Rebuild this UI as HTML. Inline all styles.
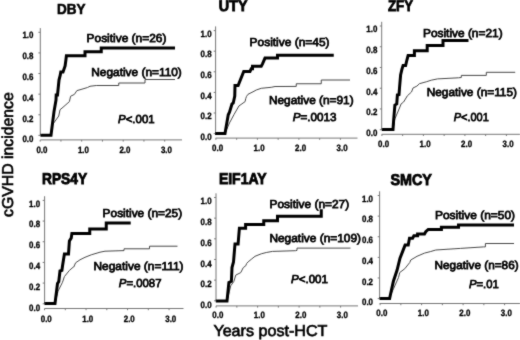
<!DOCTYPE html>
<html><head><meta charset="utf-8"><title>cGVHD incidence</title>
<style>
html,body{margin:0;padding:0;background:#fff;}
body{width:520px;height:340px;overflow:hidden;font-family:"Liberation Sans",sans-serif;}
svg{display:block;font-family:"Liberation Sans",sans-serif;text-rendering:geometricPrecision;}
.t{font-weight:bold;font-size:14.6px;fill:#000;stroke:#000;stroke-width:0.6px;}
.l{font-size:11.5px;fill:#000;stroke:#000;stroke-width:0.75px;}
.k{font-weight:bold;font-size:9.2px;fill:#000;stroke:#000;stroke-width:0.35px;}
.ax{stroke:#777;stroke-width:1.0;fill:none;}
.thick{stroke:#000;stroke-width:3.0;fill:none;stroke-linejoin:miter;}
.thin{stroke:#484848;stroke-width:1.0;fill:none;stroke-linejoin:round;}
.yl{font-size:15.7px;fill:#000;stroke:#000;stroke-width:0.65px;}
.xl{font-size:15.8px;fill:#000;stroke:#000;stroke-width:0.65px;}
</style></head><body>
<svg width="520" height="340" viewBox="0 0 520 340">
<defs><filter id="bl" x="-5%" y="-5%" width="110%" height="110%"><feConvolveMatrix order="3" kernelMatrix="1 4 1 4 28 4 1 4 1" divisor="48" edgeMode="duplicate" preserveAlpha="false"/></filter></defs>
<rect width="520" height="340" fill="#fff"/>
<g filter="url(#bl)">

<g id="p1">
<path class="ax" d="M40.30,28.10 V135.40 M38.40,135.40 H40.30 M38.40,114.78 H40.30 M38.40,94.16 H40.30 M38.40,73.54 H40.30 M38.40,52.92 H40.30 M38.40,32.30 H40.30 M40.30,139.90 H182.00 M40.20,139.90 v1.7 M60.95,139.90 v1.7 M81.70,139.90 v1.7 M102.45,139.90 v1.7 M123.20,139.90 v1.7 M143.95,139.90 v1.7 M164.70,139.90 v1.7"/>
<text class="k" x="33.40" y="142.40" text-anchor="end" textLength="11.0" lengthAdjust="spacingAndGlyphs">0.0</text>
<text class="k" x="33.40" y="121.60" text-anchor="end" textLength="11.0" lengthAdjust="spacingAndGlyphs">0.2</text>
<text class="k" x="33.40" y="100.80" text-anchor="end" textLength="11.0" lengthAdjust="spacingAndGlyphs">0.4</text>
<text class="k" x="33.40" y="80.00" text-anchor="end" textLength="11.0" lengthAdjust="spacingAndGlyphs">0.6</text>
<text class="k" x="33.40" y="59.20" text-anchor="end" textLength="11.0" lengthAdjust="spacingAndGlyphs">0.8</text>
<text class="k" x="33.40" y="38.40" text-anchor="end" textLength="11.0" lengthAdjust="spacingAndGlyphs">1.0</text>
<text class="k" x="41.90" y="152.60" text-anchor="middle" textLength="11.0" lengthAdjust="spacingAndGlyphs">0.0</text>
<text class="k" x="83.40" y="152.60" text-anchor="middle" textLength="11.0" lengthAdjust="spacingAndGlyphs">1.0</text>
<text class="k" x="124.90" y="152.60" text-anchor="middle" textLength="11.0" lengthAdjust="spacingAndGlyphs">2.0</text>
<text class="k" x="166.40" y="152.60" text-anchor="middle" textLength="11.0" lengthAdjust="spacingAndGlyphs">3.0</text>
<path class="thin" d="M51.00,135.20 L52.50,124.75 L58.75,116.00 L60.00,109.75 L63.00,107.25 L69.40,101.60 L70.60,96.25 L74.40,94.40 L76.90,90.60 L80.00,89.75 L87.50,87.50 L90.00,86.25 L96.25,85.50 L118.75,85.50 L118.75,83.00 L145.00,83.00 L145.00,79.50 L175.00,79.50"/>
<path class="thick" d="M40.40,135.20 L51.00,135.20 L54.00,111.60 L56.00,100.00 L56.20,95.00 L57.50,95.00 L59.00,80.00 L60.30,75.00 L60.80,72.00 L63.00,72.00 L65.10,66.00 L65.90,60.00 L66.40,55.70 L85.00,55.70 L85.00,51.75 L101.25,51.75 L101.25,48.00 L175.00,48.00"/>
<text class="t" x="57" y="13.75" textLength="28.5" lengthAdjust="spacingAndGlyphs">DBY</text>
<text class="l" x="86.6" y="41.6" textLength="79.8" lengthAdjust="spacingAndGlyphs">Positive (n=26)</text>
<text class="l" x="91.3" y="75.9" textLength="90.5" lengthAdjust="spacingAndGlyphs">Negative (n=110)</text>
<text class="l" x="118.1" y="122.6" textLength="36.5" lengthAdjust="spacingAndGlyphs"><tspan font-style="italic">P</tspan>&lt;.001</text>
</g>
<g id="p2">
<path class="ax" d="M215.60,26.40 V133.60 M213.70,133.60 H215.60 M213.70,113.00 H215.60 M213.70,92.40 H215.60 M213.70,71.80 H215.60 M213.70,51.20 H215.60 M213.70,30.60 H215.60 M215.60,138.10 H357.50 M215.90,138.10 v1.7 M236.65,138.10 v1.7 M257.40,138.10 v1.7 M278.15,138.10 v1.7 M298.90,138.10 v1.7 M319.65,138.10 v1.7 M340.40,138.10 v1.7"/>
<text class="k" x="211.60" y="139.90" text-anchor="end" textLength="11.0" lengthAdjust="spacingAndGlyphs">0.0</text>
<text class="k" x="211.60" y="119.24" text-anchor="end" textLength="11.0" lengthAdjust="spacingAndGlyphs">0.2</text>
<text class="k" x="211.60" y="98.58" text-anchor="end" textLength="11.0" lengthAdjust="spacingAndGlyphs">0.4</text>
<text class="k" x="211.60" y="77.92" text-anchor="end" textLength="11.0" lengthAdjust="spacingAndGlyphs">0.6</text>
<text class="k" x="211.60" y="57.26" text-anchor="end" textLength="11.0" lengthAdjust="spacingAndGlyphs">0.8</text>
<text class="k" x="211.60" y="36.60" text-anchor="end" textLength="11.0" lengthAdjust="spacingAndGlyphs">1.0</text>
<text class="k" x="217.60" y="150.90" text-anchor="middle" textLength="11.0" lengthAdjust="spacingAndGlyphs">0.0</text>
<text class="k" x="259.10" y="150.90" text-anchor="middle" textLength="11.0" lengthAdjust="spacingAndGlyphs">1.0</text>
<text class="k" x="300.60" y="150.90" text-anchor="middle" textLength="11.0" lengthAdjust="spacingAndGlyphs">2.0</text>
<text class="k" x="342.10" y="150.90" text-anchor="middle" textLength="11.0" lengthAdjust="spacingAndGlyphs">3.0</text>
<path class="thin" d="M225.00,133.40 L229.50,122.90 L233.90,114.75 L238.90,106.00 L245.10,101.60 L245.75,98.50 L246.50,96.40 L248.00,94.30 L253.00,91.80 L256.25,90.00 L261.25,88.30 L271.25,87.30 L275.00,86.50 L296.25,86.40 L296.25,83.75 L321.25,83.75 L321.25,80.00 L350.00,80.00"/>
<path class="thick" d="M215.00,133.40 L225.00,133.40 L228.25,114.75 L229.50,112.25 L232.00,104.00 L233.25,103.00 L234.75,96.00 L235.00,85.60 L238.10,85.60 L243.75,71.40 L250.00,71.40 L251.25,68.70 L252.50,68.70 L252.50,66.20 L261.25,66.20 L262.50,63.90 L265.00,58.10 L277.50,58.10 L277.50,55.30 L333.75,55.30"/>
<text class="t" style="font-size:15.6px;stroke-width:0.85px" x="218.75" y="11" textLength="28.75" lengthAdjust="spacingAndGlyphs">UTY</text>
<text class="l" x="249.6" y="45.6" textLength="79.9" lengthAdjust="spacingAndGlyphs">Positive (n=45)</text>
<text class="l" x="268.9" y="104.2" textLength="84.8" lengthAdjust="spacingAndGlyphs">Negative (n=91)</text>
<text class="l" x="292.8" y="121.3" textLength="43.75" lengthAdjust="spacingAndGlyphs"><tspan font-style="italic">P</tspan>=.0013</text>
</g>
<g id="p3">
<path class="ax" d="M381.70,21.80 V129.70 M379.80,129.70 H381.70 M379.80,108.96 H381.70 M379.80,88.22 H381.70 M379.80,67.48 H381.70 M379.80,46.74 H381.70 M379.80,26.00 H381.70 M381.70,134.30 H520.00 M381.90,134.30 v1.7 M402.65,134.30 v1.7 M423.40,134.30 v1.7 M444.15,134.30 v1.7 M464.90,134.30 v1.7 M485.65,134.30 v1.7 M506.40,134.30 v1.7"/>
<text class="k" x="377.30" y="136.25" text-anchor="end" textLength="11.0" lengthAdjust="spacingAndGlyphs">0.0</text>
<text class="k" x="377.30" y="115.44" text-anchor="end" textLength="11.0" lengthAdjust="spacingAndGlyphs">0.2</text>
<text class="k" x="377.30" y="94.63" text-anchor="end" textLength="11.0" lengthAdjust="spacingAndGlyphs">0.4</text>
<text class="k" x="377.30" y="73.82" text-anchor="end" textLength="11.0" lengthAdjust="spacingAndGlyphs">0.6</text>
<text class="k" x="377.30" y="53.01" text-anchor="end" textLength="11.0" lengthAdjust="spacingAndGlyphs">0.8</text>
<text class="k" x="377.30" y="32.20" text-anchor="end" textLength="11.0" lengthAdjust="spacingAndGlyphs">1.0</text>
<text class="k" x="383.60" y="147.00" text-anchor="middle" textLength="11.0" lengthAdjust="spacingAndGlyphs">0.0</text>
<text class="k" x="425.10" y="147.00" text-anchor="middle" textLength="11.0" lengthAdjust="spacingAndGlyphs">1.0</text>
<text class="k" x="466.60" y="147.00" text-anchor="middle" textLength="11.0" lengthAdjust="spacingAndGlyphs">2.0</text>
<text class="k" x="508.10" y="147.00" text-anchor="middle" textLength="11.0" lengthAdjust="spacingAndGlyphs">3.0</text>
<path class="thin" d="M393.00,129.55 L394.90,118.90 L399.90,107.00 L401.10,103.90 L403.60,102.00 L407.40,95.75 L411.50,92.00 L413.00,88.00 L416.90,86.10 L419.40,83.70 L426.25,81.80 L431.25,80.20 L437.50,78.90 L458.50,77.80 L461.30,77.50 L461.30,75.40 L486.30,75.40 L486.30,72.30 L515.20,72.30"/>
<path class="thick" d="M381.75,129.55 L393.00,129.55 L393.60,120.75 L394.90,105.10 L396.75,103.90 L397.40,95.00 L399.00,94.50 L399.50,88.00 L400.60,75.00 L401.90,69.40 L403.10,65.60 L405.60,65.60 L406.90,60.00 L408.10,55.60 L414.40,55.60 L414.40,50.80 L427.20,50.80 L427.20,45.50 L443.00,45.50 L443.00,40.60 L468.50,40.60"/>
<text class="t" style="font-size:15.6px;stroke-width:0.85px" x="388" y="11" textLength="25" lengthAdjust="spacingAndGlyphs">ZFY</text>
<text class="l" x="423.0" y="37.3" textLength="79.6" lengthAdjust="spacingAndGlyphs">Positive (n=21)</text>
<text class="l" x="426.7" y="95.8" textLength="90.3" lengthAdjust="spacingAndGlyphs">Negative (n=115)</text>
<text class="l" x="453.7" y="120.8" textLength="35.1" lengthAdjust="spacingAndGlyphs"><tspan font-style="italic">P</tspan>&lt;.001</text>
</g>
<g id="p4">
<path class="ax" d="M44.60,196.20 V303.75 M42.70,303.75 H44.60 M42.70,283.08 H44.60 M42.70,262.41 H44.60 M42.70,241.74 H44.60 M42.70,221.07 H44.60 M42.70,200.40 H44.60 M44.60,308.50 H183.50 M44.55,308.50 v1.7 M65.30,308.50 v1.7 M86.05,308.50 v1.7 M106.80,308.50 v1.7 M127.55,308.50 v1.7 M148.30,308.50 v1.7 M169.05,308.50 v1.7"/>
<text class="k" x="40.10" y="310.60" text-anchor="end" textLength="11.0" lengthAdjust="spacingAndGlyphs">0.0</text>
<text class="k" x="40.10" y="289.82" text-anchor="end" textLength="11.0" lengthAdjust="spacingAndGlyphs">0.2</text>
<text class="k" x="40.10" y="269.04" text-anchor="end" textLength="11.0" lengthAdjust="spacingAndGlyphs">0.4</text>
<text class="k" x="40.10" y="248.26" text-anchor="end" textLength="11.0" lengthAdjust="spacingAndGlyphs">0.6</text>
<text class="k" x="40.10" y="227.48" text-anchor="end" textLength="11.0" lengthAdjust="spacingAndGlyphs">0.8</text>
<text class="k" x="40.10" y="206.70" text-anchor="end" textLength="11.0" lengthAdjust="spacingAndGlyphs">1.0</text>
<text class="k" x="46.25" y="321.50" text-anchor="middle" textLength="11.0" lengthAdjust="spacingAndGlyphs">0.0</text>
<text class="k" x="87.75" y="321.50" text-anchor="middle" textLength="11.0" lengthAdjust="spacingAndGlyphs">1.0</text>
<text class="k" x="129.25" y="321.50" text-anchor="middle" textLength="11.0" lengthAdjust="spacingAndGlyphs">2.0</text>
<text class="k" x="170.75" y="321.50" text-anchor="middle" textLength="11.0" lengthAdjust="spacingAndGlyphs">3.0</text>
<path class="thin" d="M55.00,303.50 L58.10,291.00 L62.50,282.25 L64.40,276.60 L69.40,270.40 L73.10,267.25 L73.75,267.00 L75.60,262.80 L80.00,259.80 L85.00,257.30 L91.25,254.80 L100.00,252.20 L105.00,251.20 L124.00,250.60 L124.00,248.80 L149.50,248.80 L149.50,246.20 L177.50,246.20"/>
<path class="thick" d="M44.40,303.50 L55.00,303.50 L57.50,283.50 L58.75,281.60 L60.00,271.00 L61.90,270.40 L62.50,266.00 L64.40,254.10 L68.50,254.10 L69.40,241.00 L71.25,237.90 L71.90,233.50 L89.75,233.50 L89.75,229.00 L106.25,229.00 L106.25,223.00 L130.70,223.00"/>
<text class="t" style="font-size:15.6px;stroke-width:0.85px" x="42.0" y="183.7" textLength="45.1" lengthAdjust="spacingAndGlyphs">RPS4Y</text>
<text class="l" x="102.6" y="216.5" textLength="79.6" lengthAdjust="spacingAndGlyphs">Positive (n=25)</text>
<text class="l" x="93.5" y="270.2" textLength="90" lengthAdjust="spacingAndGlyphs">Negative (n=111)</text>
<text class="l" x="118.8" y="287" textLength="42.7" lengthAdjust="spacingAndGlyphs"><tspan font-style="italic">P</tspan>=.0087</text>
</g>
<g id="p5">
<path class="ax" d="M216.00,193.30 V300.80 M214.10,300.80 H216.00 M214.10,280.14 H216.00 M214.10,259.48 H216.00 M214.10,238.82 H216.00 M214.10,218.16 H216.00 M214.10,197.50 H216.00 M216.00,305.90 H358.00 M216.10,305.90 v1.7 M236.85,305.90 v1.7 M257.60,305.90 v1.7 M278.35,305.90 v1.7 M299.10,305.90 v1.7 M319.85,305.90 v1.7 M340.60,305.90 v1.7"/>
<text class="k" x="211.60" y="308.00" text-anchor="end" textLength="11.0" lengthAdjust="spacingAndGlyphs">0.0</text>
<text class="k" x="211.60" y="287.26" text-anchor="end" textLength="11.0" lengthAdjust="spacingAndGlyphs">0.2</text>
<text class="k" x="211.60" y="266.52" text-anchor="end" textLength="11.0" lengthAdjust="spacingAndGlyphs">0.4</text>
<text class="k" x="211.60" y="245.78" text-anchor="end" textLength="11.0" lengthAdjust="spacingAndGlyphs">0.6</text>
<text class="k" x="211.60" y="225.04" text-anchor="end" textLength="11.0" lengthAdjust="spacingAndGlyphs">0.8</text>
<text class="k" x="211.60" y="204.30" text-anchor="end" textLength="11.0" lengthAdjust="spacingAndGlyphs">1.0</text>
<text class="k" x="217.80" y="318.20" text-anchor="middle" textLength="11.0" lengthAdjust="spacingAndGlyphs">0.0</text>
<text class="k" x="259.30" y="318.20" text-anchor="middle" textLength="11.0" lengthAdjust="spacingAndGlyphs">1.0</text>
<text class="k" x="300.80" y="318.20" text-anchor="middle" textLength="11.0" lengthAdjust="spacingAndGlyphs">2.0</text>
<text class="k" x="342.30" y="318.20" text-anchor="middle" textLength="11.0" lengthAdjust="spacingAndGlyphs">3.0</text>
<path class="thin" d="M227.00,301.00 L230.75,285.75 L233.90,281.40 L235.75,275.10 L240.75,272.60 L243.25,267.60 L245.75,265.75 L246.60,263.50 L248.10,261.90 L251.90,258.80 L255.00,256.30 L261.25,253.80 L266.25,252.50 L272.50,251.40 L295.50,250.70 L297.00,250.40 L297.00,248.10 L350.50,248.10"/>
<path class="thick" d="M215.75,301.00 L227.00,301.00 L228.90,282.60 L231.40,281.40 L232.00,267.60 L233.50,262.00 L235.00,243.90 L238.10,243.90 L239.40,228.25 L245.60,228.25 L245.60,224.60 L263.75,224.60 L263.75,220.75 L277.50,220.75 L277.50,216.25 L321.25,216.25 L321.25,209.30"/>
<text class="t" style="font-size:15.6px;stroke-width:0.85px" x="218.9" y="183.6" textLength="47.7" lengthAdjust="spacingAndGlyphs">EIF1AY</text>
<text class="l" x="269.5" y="207.5" textLength="79.7" lengthAdjust="spacingAndGlyphs">Positive (n=27)</text>
<text class="l" x="269.4" y="241.7" textLength="91.7" lengthAdjust="spacingAndGlyphs">Negative (n=109)</text>
<text class="l" x="291" y="282.9" textLength="37" lengthAdjust="spacingAndGlyphs"><tspan font-style="italic">P</tspan>&lt;.001</text>
</g>
<g id="p6">
<path class="ax" d="M379.60,191.30 V298.60 M377.70,298.60 H379.60 M377.70,277.98 H379.60 M377.70,257.36 H379.60 M377.70,236.74 H379.60 M377.70,216.12 H379.60 M377.70,195.50 H379.60 M379.60,303.50 H520.00 M380.10,303.50 v1.7 M400.85,303.50 v1.7 M421.60,303.50 v1.7 M442.35,303.50 v1.7 M463.10,303.50 v1.7 M483.85,303.50 v1.7 M504.60,303.50 v1.7"/>
<text class="k" x="373.00" y="305.30" text-anchor="end" textLength="11.0" lengthAdjust="spacingAndGlyphs">0.0</text>
<text class="k" x="373.00" y="284.58" text-anchor="end" textLength="11.0" lengthAdjust="spacingAndGlyphs">0.2</text>
<text class="k" x="373.00" y="263.86" text-anchor="end" textLength="11.0" lengthAdjust="spacingAndGlyphs">0.4</text>
<text class="k" x="373.00" y="243.14" text-anchor="end" textLength="11.0" lengthAdjust="spacingAndGlyphs">0.6</text>
<text class="k" x="373.00" y="222.42" text-anchor="end" textLength="11.0" lengthAdjust="spacingAndGlyphs">0.8</text>
<text class="k" x="373.00" y="201.70" text-anchor="end" textLength="11.0" lengthAdjust="spacingAndGlyphs">1.0</text>
<text class="k" x="381.80" y="316.15" text-anchor="middle" textLength="11.0" lengthAdjust="spacingAndGlyphs">0.0</text>
<text class="k" x="423.30" y="316.15" text-anchor="middle" textLength="11.0" lengthAdjust="spacingAndGlyphs">1.0</text>
<text class="k" x="464.80" y="316.15" text-anchor="middle" textLength="11.0" lengthAdjust="spacingAndGlyphs">2.0</text>
<text class="k" x="506.30" y="316.15" text-anchor="middle" textLength="11.0" lengthAdjust="spacingAndGlyphs">3.0</text>
<path class="thin" d="M389.10,298.50 L393.50,288.75 L398.50,277.50 L399.75,272.50 L404.75,268.75 L409.75,262.50 L410.75,260.00 L417.00,256.30 L424.50,253.10 L430.75,251.50 L435.75,250.00 L460.40,248.40 L483.50,246.90 L485.40,246.90 L485.40,243.50 L514.00,243.50"/>
<path class="thick" d="M379.50,298.60 L389.60,298.60 L393.40,281.25 L397.10,270.00 L400.00,258.25 L405.10,245.10 L408.25,245.10 L409.50,238.25 L412.60,238.25 L413.90,235.75 L417.60,235.75 L417.60,233.90 L424.50,233.90 L425.75,231.70 L428.25,229.40 L441.40,229.40 L441.40,227.20 L458.50,227.20 L458.50,224.90 L514.00,224.90"/>
<text class="t" style="font-size:15.6px;stroke-width:0.85px" x="390.4" y="185.4" textLength="41.5" lengthAdjust="spacingAndGlyphs">SMCY</text>
<text class="l" x="434.9" y="219.35" textLength="80.2" lengthAdjust="spacingAndGlyphs">Positive (n=50)</text>
<text class="l" x="434.6" y="269.3" textLength="84.0" lengthAdjust="spacingAndGlyphs">Negative (n=86)</text>
<text class="l" x="469" y="288.4" textLength="29.8" lengthAdjust="spacingAndGlyphs"><tspan font-style="italic">P</tspan>=.01</text>
</g>
<text class="yl" transform="translate(12.7,216.9) rotate(-90)" textLength="124.6" lengthAdjust="spacingAndGlyphs">cGVHD incidence</text>
<text class="xl" x="213.4" y="336.4" textLength="114" lengthAdjust="spacingAndGlyphs">Years post-HCT</text>
</g></svg></body></html>
